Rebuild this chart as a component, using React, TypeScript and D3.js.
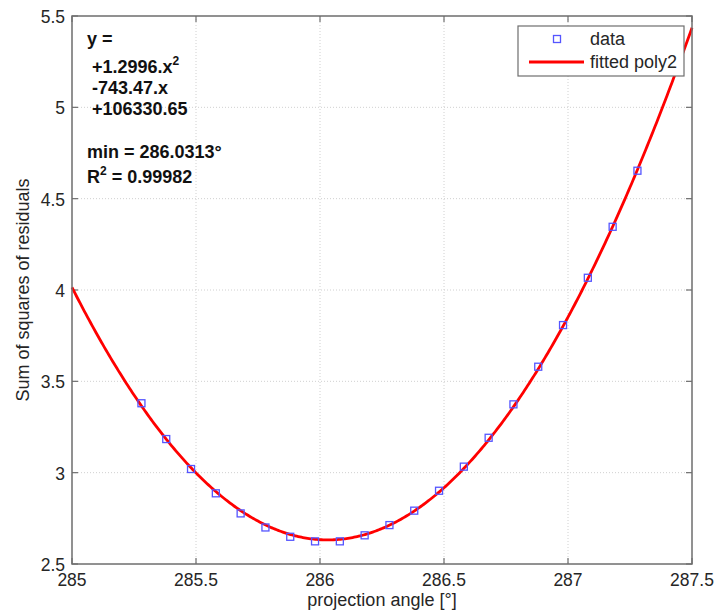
import React from "react";
import * as d3 from "d3";

const angles = [285.28, 285.38, 285.48, 285.58, 285.68, 285.78, 285.88, 285.98, 286.08, 286.18, 286.28, 286.38, 286.48, 286.58, 286.68, 286.78, 286.88, 286.98, 287.08, 287.18, 287.28];
const residuals = [3.38, 3.184, 3.02, 2.887, 2.777, 2.70, 2.649, 2.624, 2.624, 2.657, 2.713, 2.792, 2.901, 3.033, 3.191, 3.374, 3.58, 3.808, 4.067, 4.346, 4.653];
const xTicks = [285, 285.5, 286, 286.5, 287, 287.5];
const yTicks = [2.5, 3, 3.5, 4, 4.5, 5, 5.5];
// fitted poly2 (vertex form from displayed fit: a = 1.2996, min at 286.0313)
const fitA = 1.2996;
const fitX0 = 286.0313;
const fitYmin = 2.632;
const eqLines = ["y =", " +1.2996.x", " -743.47.x", " +106330.65"];

const W = 718, H = 613;
const L = 72, R = 692, T = 16, B = 564;
const FONT = "'Liberation Sans', Arial, Helvetica, sans-serif";

export default function App() {
  const x = d3.scaleLinear().domain([285, 287.5]).range([L, R]);
  const y = d3.scaleLinear().domain([2.5, 5.5]).range([B, T]);
  const fitX = d3.range(0, 401).map((i) => 285 + (i / 400) * 2.5);
  const line = d3
    .line<number>()
    .x((d) => x(d))
    .y((d) => y(fitA * (d - fitX0) ** 2 + fitYmin));
  const axisColor = "#6e6e6e";
  const txt = "#262626";
  const tl = 6;
  return (
    <svg width={W} height={H} style={{ position: "absolute", left: 0, top: 0, background: "#fff" }} fontFamily={FONT}>
      <rect x={0} y={0} width={W} height={H} fill="#fff" />
      {/* grid */}
      {xTicks.slice(1, -1).map((t) => (
        <line key={"gx" + t} x1={x(t)} x2={x(t)} y1={T} y2={B} stroke="#d0d0d0" strokeWidth={1} strokeDasharray="1,2" />
      ))}
      {yTicks.slice(1, -1).map((t) => (
        <line key={"gy" + t} x1={L} x2={R} y1={y(t)} y2={y(t)} stroke="#d0d0d0" strokeWidth={1} strokeDasharray="1,2" />
      ))}
      {/* ticks */}
      {xTicks.map((t) => (
        <g key={"tx" + t}>
          <line x1={x(t)} x2={x(t)} y1={B} y2={B - tl} stroke={axisColor} strokeWidth={1.2} />
          <line x1={x(t)} x2={x(t)} y1={T} y2={T + tl} stroke={axisColor} strokeWidth={1.2} />
          <text x={x(t)} y={586} textAnchor="middle" fontSize={17.5} fill={txt}>{t}</text>
        </g>
      ))}
      {yTicks.map((t) => (
        <g key={"ty" + t}>
          <line x1={L} x2={L + tl} y1={y(t)} y2={y(t)} stroke={axisColor} strokeWidth={1.2} />
          <line x1={R} x2={R - tl} y1={y(t)} y2={y(t)} stroke={axisColor} strokeWidth={1.2} />
          <text x={65} y={y(t) + 1} textAnchor="end" dominantBaseline="central" fontSize={17.5} fill={txt}>{t}</text>
        </g>
      ))}
      {/* fitted curve */}
      <path d={line(fitX) || ""} fill="none" stroke="#ff0000" strokeWidth={2.8} />
      {/* data */}
      {angles.map((a, i) => (
        <rect key={"p" + i} x={x(a) - 3.5} y={y(residuals[i]) - 3.5} width={7} height={7} fill="none" stroke="#5555ff" strokeWidth={1.3} />
      ))}
      {/* box */}
      <rect x={L} y={T} width={R - L} height={B - T} fill="none" stroke={axisColor} strokeWidth={1.5} />
      {/* axis titles */}
      <text x={(L + R) / 2} y={606} textAnchor="middle" fontSize={18} fill={txt}>projection angle [°]</text>
      <text transform={`translate(29, ${(T + B) / 2}) rotate(-90)`} textAnchor="middle" fontSize={18} fill={txt}>Sum of squares of residuals</text>
      {/* equation annotation */}
      <g fontWeight="bold" fontSize={18} fill="#111">
        <text x={87} y={45} xmlSpace="preserve">{eqLines[0]}</text>
        <text x={87} y={73} xmlSpace="preserve">{eqLines[1]}<tspan dy={-8} fontSize={12}>2</tspan></text>
        <text x={87} y={94} xmlSpace="preserve">{eqLines[2]}</text>
        <text x={87} y={115} xmlSpace="preserve">{eqLines[3]}</text>
        <text x={87} y={158}>min = 286.0313°</text>
        <text x={87} y={183}>R<tspan dy={-8} fontSize={12}>2</tspan><tspan dy={8}> = 0.99982</tspan></text>
      </g>
      {/* legend */}
      <g>
        <rect x={518} y={26} width={166} height={50} fill="#fff" stroke={axisColor} strokeWidth={1.2} />
        <rect x={557 - 3.5} y={39 - 3.5} width={7} height={7} fill="none" stroke="#5555ff" strokeWidth={1.3} />
        <text x={590} y={45} fontSize={18} fill={txt}>data</text>
        <line x1={529} x2={584} y1={62} y2={62} stroke="#ff0000" strokeWidth={2.8} />
        <text x={590} y={68} fontSize={18} fill={txt}>fitted poly2</text>
      </g>
    </svg>
  );
}
